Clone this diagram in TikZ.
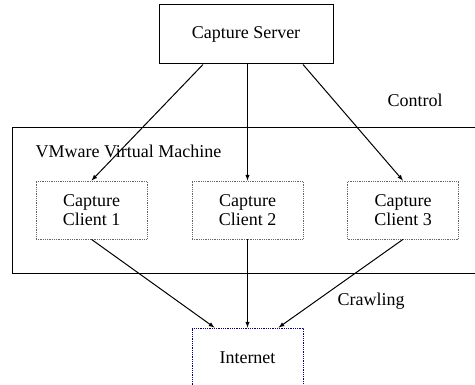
\documentclass[tikz,border=0pt]{standalone}
\usepackage{fontspec}
\setmainfont{Liberation Serif}
\usetikzlibrary{arrows}

\tikzset{
  server/.style={draw, line width=1pt, minimum width=174pt, minimum height=59pt, inner sep=0pt},
  client/.style={draw=gray!80!black, densely dotted, thick, minimum width=111pt, minimum height=58pt, inner sep=0pt, align=center},
  cloud/.style={draw=blue!50!black, densely dotted, thick, minimum width=111pt, minimum height=60pt, inner sep=0pt},
  link/.style={-latex, line width=1pt},
}

\begin{document}
\begin{tikzpicture}[x=1pt, y=-1pt, font=\fontsize{18}{19}\selectfont]
          \useasboundingbox (0,0) rectangle (475,385);
          \clip (0,0) rectangle (475,385);

          \draw [line width=1pt] (12,128) rectangle (490,274);
          \node [anchor=base west] (vmlabel) at (32,158) {VMware Virtual Machine};

          \node [server] (server) at (246,34.5) {Capture Server};
          \node [client] (client1) at (91.5,210) {Capture\\Client 1};
          \node [client] (client2) at (247.5,210) {Capture\\Client 2};
          \node [client] (client3) at (403,210) {Capture\\Client 3};
          \node [cloud] (net) at (247.5,358) {Internet};

          \draw [link] ([xshift=-43pt]server.south) -- (client1.north);
          \draw [link] (server.south -| client2.north) -- (client2.north);
          \draw [link] ([xshift=57pt]server.south) -- (client3.north);

          \draw [link] (client1.south) -- ([xshift=-33pt]net.north);
          \draw [link] (client2.south) -- (net.north);
          \draw [link] (client3.south) -- ([xshift=31pt]net.north);

          \node [anchor=base west] (control) at (384,107) {Control};
          \node [anchor=base west] (crawling) at (334,306) {Crawling};
        \end{tikzpicture}
\end{document}
